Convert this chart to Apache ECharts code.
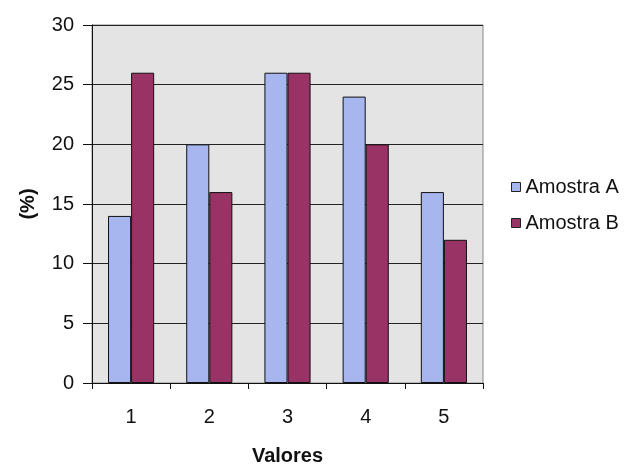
<!DOCTYPE html>
<html><head><meta charset="utf-8">
<script src="https://cdn.jsdelivr.net/npm/echarts@6/dist/echarts.min.js"></script>
<style>html,body{margin:0;padding:0;background:#fff;}#c{width:640px;height:467px;}</style>
</head><body><div id="c"></div>
<script>
var categories = ['1','2','3','4','5'];
var amostraA = [14, 20, 26, 24, 16];
var amostraB = [26, 16, 26, 20, 12];
var chart = echarts.init(document.getElementById('c'));
var font = 'Liberation Sans, Arial, sans-serif';
chart.setOption({
  animation: false,
  backgroundColor: '#ffffff',
  grid: {left: 92, right: 157, top: 25, bottom: 84, outerBoundsMode: 'none', containLabel: false, show: true, backgroundColor: '#E4E4E4', borderColor: '#888', borderWidth: 1},
  legend: {
    orient: 'vertical', left: 511, top: 177, padding: 0, icon: 'rect', itemWidth: 9, itemHeight: 9, itemGap: 16,
    textStyle: {fontFamily: font, fontSize: 20, color: '#111'},
    data: [{name: 'Amostra A', itemStyle: {borderColor: '#222', borderWidth: 1}}, {name: 'Amostra B', itemStyle: {borderColor: '#222', borderWidth: 1}}]
  },
  xAxis: {
    type: 'category', data: categories,
    name: 'Valores', nameLocation: 'middle', nameGap: 63,
    nameTextStyle: {fontFamily: font, fontSize: 20, fontWeight: 'bold', color: '#111'},
    axisLine: {lineStyle: {color: '#111', width: 1}},
    axisTick: {show: true, inside: false, length: 6, lineStyle: {color: '#111'}},
    axisLabel: {fontFamily: font, fontSize: 20, color: '#111', margin: 24}
  },
  yAxis: {
    type: 'value', min: 0, max: 30, interval: 5,
    name: '(%)', nameLocation: 'middle', nameGap: 54, nameRotate: 90,
    nameTextStyle: {fontFamily: font, fontSize: 20, fontWeight: 'bold', color: '#111'},
    axisLine: {show: true, lineStyle: {color: '#111', width: 1}},
    axisTick: {show: true, inside: false, length: 9, lineStyle: {color: '#111'}},
    axisLabel: {fontFamily: font, fontSize: 20, color: '#111', margin: 18},
    splitLine: {show: true, lineStyle: {color: '#222', width: 1}}
  },
  series: [
    {name: 'Amostra A', type: 'bar', data: amostraA, barGap: '0%', barCategoryGap: '41%',
     itemStyle: {color: '#A8B6F0', borderColor: '#111', borderWidth: 1}},
    {name: 'Amostra B', type: 'bar', data: amostraB,
     itemStyle: {color: '#993366', borderColor: '#111', borderWidth: 1}}
  ]
});
</script></body></html>
